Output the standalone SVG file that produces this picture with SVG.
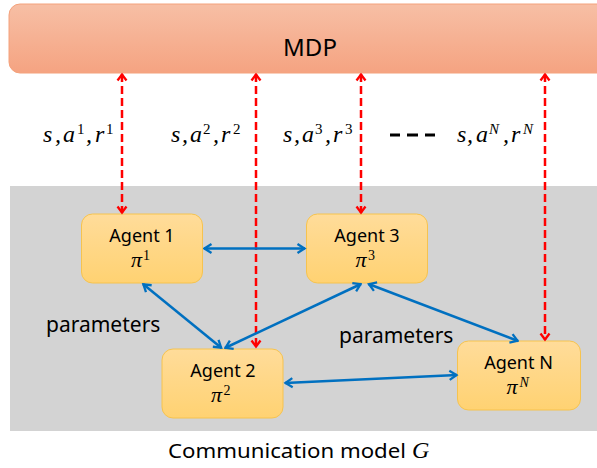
<svg xmlns="http://www.w3.org/2000/svg" width="597" height="468" viewBox="0 0 597 468">
<style>
.t{font-family:"Noto Sans","Open Sans",sans-serif;fill:#000}
.ag{font-size:18px;text-anchor:middle}
.m{font-family:"Liberation Serif","DejaVu Serif",serif;font-style:italic;font-size:24px;fill:#000}
.p{font-size:22px}
.sup{font-style:normal;font-size:15px}
.supi{font-style:italic;font-size:15px}
.s2{font-style:normal;font-size:14px}
.s2i{font-style:italic;font-size:14px}
.box{fill:url(#ga);stroke:#f6c34f;stroke-width:1}
.red{stroke:#ff0000;stroke-width:2.5;stroke-dasharray:8 4;fill:none;marker-start:url(#rh);marker-end:url(#rh)}
.blue{stroke:#0070c0;stroke-width:2.5;fill:none;marker-start:url(#bh);marker-end:url(#bh)}
</style>
<defs>
<linearGradient id="ga" x1="0" y1="0" x2="0" y2="1">
<stop offset="0" stop-color="#ffdc9a"/>
<stop offset="1" stop-color="#ffd272"/>
</linearGradient>
<linearGradient id="gm" x1="0" y1="0" x2="0" y2="1">
<stop offset="0" stop-color="#f7bfa5"/>
<stop offset="1" stop-color="#f5a381"/>
</linearGradient>
<marker id="bh" viewBox="0 0 12 12" refX="10.5" refY="6" markerWidth="12" markerHeight="12" markerUnits="userSpaceOnUse" orient="auto-start-reverse">
<path d="M3,1.5 L10,6 L3,10.5" fill="none" stroke="#0070c0" stroke-width="2.3"/>
</marker>
<marker id="rh" viewBox="0 0 12 12" refX="10.5" refY="6" markerWidth="12" markerHeight="12" markerUnits="userSpaceOnUse" orient="auto-start-reverse">
<path d="M4,1.5 L10,6 L4,10.5" fill="none" stroke="#ff0000" stroke-width="2.3"/>
</marker>
</defs>

<rect x="0" y="0" width="597" height="468" fill="#ffffff"/>
<rect id="commBg" x="10" y="186" width="590" height="245" fill="#d3d3d3"/>

<g id="mdp">
<rect x="9" y="4" width="600" height="69" rx="11" fill="url(#gm)" stroke="#f4a27c" stroke-width="1"/>
<text class="t" x="310" y="56" font-size="24" text-anchor="middle">MDP</text>
</g>

<g id="labels">
<text class="m" y="142"><tspan x="43">s</tspan><tspan x="55">,</tspan><tspan x="63">a</tspan><tspan class="sup" x="77" dy="-8">1</tspan><tspan x="86" dy="8">,</tspan><tspan x="95">r</tspan><tspan class="sup" x="106" dy="-8">1</tspan></text>
<text class="m" y="142"><tspan x="171">s</tspan><tspan x="182">,</tspan><tspan x="190">a</tspan><tspan class="sup" x="203" dy="-8">2</tspan><tspan x="213" dy="8">,</tspan><tspan x="221">r</tspan><tspan class="sup" x="233" dy="-8">2</tspan></text>
<text class="m" y="142"><tspan x="283">s</tspan><tspan x="294">,</tspan><tspan x="302">a</tspan><tspan class="sup" x="315" dy="-8">3</tspan><tspan x="325" dy="8">,</tspan><tspan x="333">r</tspan><tspan class="sup" x="345" dy="-8">3</tspan></text>
<text class="m" y="142"><tspan x="457">s</tspan><tspan x="467">,</tspan><tspan x="476">a</tspan><tspan class="supi" x="489" dy="-8">N</tspan><tspan x="503" dy="8">,</tspan><tspan x="511">r</tspan><tspan class="supi" x="523" dy="-8">N</tspan></text>
<g stroke="#000" stroke-width="3">
<line x1="390" y1="135" x2="400" y2="135"/>
<line x1="407" y1="135" x2="418" y2="135"/>
<line x1="425" y1="135" x2="435" y2="135"/>
</g>
</g>

<g id="agent1">
<rect class="box" x="81.5" y="214" width="121" height="69" rx="11"/>
<text class="t ag" x="142" y="242">Agent 1</text>
<text class="m p" y="267"><tspan x="131">π</tspan><tspan class="s2" x="143" dy="-7">1</tspan></text>
</g>
<g id="agent3">
<rect class="box" x="306.5" y="214" width="121" height="69" rx="11"/>
<text class="t ag" x="367" y="242">Agent 3</text>
<text class="m p" y="267"><tspan x="355.5">π</tspan><tspan class="s2" x="368" dy="-7">3</tspan></text>
</g>
<g id="agent2">
<rect class="box" x="162" y="349" width="121" height="69" rx="11"/>
<text class="t ag" x="223" y="377">Agent 2</text>
<text class="m p" y="402"><tspan x="211">π</tspan><tspan class="s2" x="223.5" dy="-7">2</tspan></text>
</g>
<g id="agentN">
<rect class="box" x="457.5" y="341" width="123" height="69" rx="11"/>
<text class="t ag" x="518.5" y="369">Agent N</text>
<text class="m p" y="394"><tspan x="506.5">π</tspan><tspan class="s2i" x="519.5" dy="-7">N</tspan></text>
</g>

<g id="connectors">
<line class="red" x1="122" y1="74" x2="122" y2="213"/>
<line class="red" x1="256" y1="74" x2="256" y2="347"/>
<line class="red" x1="361" y1="74" x2="361" y2="213"/>
<line class="red" x1="545" y1="74" x2="545" y2="340"/>
<line class="blue" x1="204" y1="248.5" x2="305" y2="248.5"/>
<line class="blue" x1="143" y1="284" x2="221.5" y2="348"/>
<line class="blue" x1="361" y1="284" x2="225" y2="348"/>
<line class="blue" x1="368.5" y1="284" x2="518" y2="341"/>
<line class="blue" x1="285" y1="383" x2="457" y2="375"/>
</g>

<g id="texts">
<text class="t" x="46" y="332" font-size="21">parameters</text>
<text class="t" x="339" y="343" font-size="21">parameters</text>
<text class="t" x="168" y="458" font-size="20" textLength="238" lengthAdjust="spacingAndGlyphs">Communication model</text>
<text class="m" x="412" y="458" font-size="23">G</text>
</g>
</svg>
